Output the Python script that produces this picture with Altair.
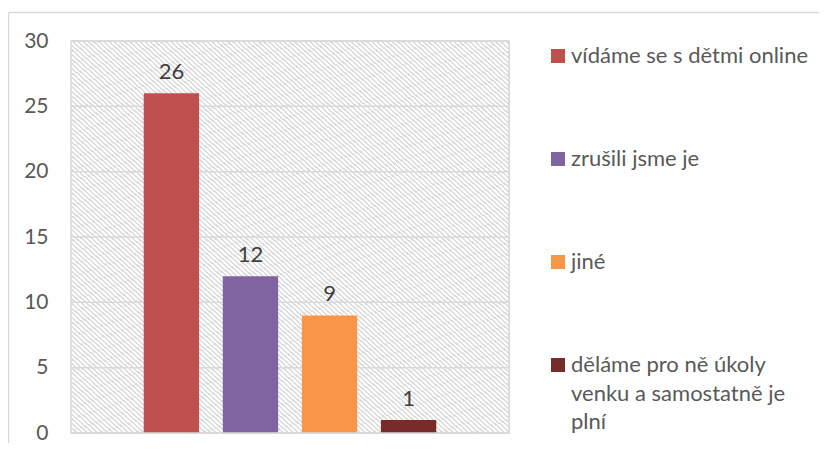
import altair as alt
import pandas as pd

series = ["vídáme se s dětmi online", "zrušili jsme je", "jiné",
          "děláme pro ně úkoly venku a samostatně je plní"]
legend_text = ["vídáme se s dětmi online", "zrušili jsme je", "jiné",
               "děláme pro ně úkoly\nvenku a samostatně je\nplní"]
values = [26, 12, 9, 1]
colors = ["#C0504D", "#8064A2", "#F79646", "#772C2A"]
y_ticks = [0, 5, 10, 15, 20, 25, 30]

df = pd.DataFrame({"series": series, "value": values, "legend": legend_text})
ticks_df = pd.DataFrame({"tick": y_ticks})

FONT = "Lato"
W, H = 438, 392

# diagonal hatch pattern of the plot area (style only)
n_stripes = 170
stops = []
for k in range(n_stripes):
    a = k / n_stripes
    b = (k + 0.55) / n_stripes
    c = (k + 1) / n_stripes
    stops += [alt.GradientStop(offset=a, color="#ffffff"),
              alt.GradientStop(offset=b, color="#ffffff"),
              alt.GradientStop(offset=b, color="#dcdcdc"),
              alt.GradientStop(offset=c, color="#dcdcdc")]
hatch_fill = alt.LinearGradient(gradient="linear", x1=1, y1=0, x2=0, y2=1,
                                stops=stops)

x_enc = alt.X("series:N", sort=series,
              scale=alt.Scale(paddingInner=0.30, paddingOuter=0.92),
              axis=None)
y_scale = alt.Scale(domain=[0, 30])
color_enc = alt.Color("series:N", sort=series,
                      scale=alt.Scale(domain=series, range=colors), legend=None)

one_row = alt.Chart(df).transform_aggregate(n="count()")

hatch = one_row.mark_rect(color=hatch_fill).encode(
    x=alt.value(0), x2=alt.value(W), y=alt.value(0), y2=alt.value(H))

grid = alt.Chart(ticks_df).mark_rule(color="#d9d9d9", strokeWidth=1.5).encode(
    y=alt.Y("tick:Q", scale=y_scale,
            axis=alt.Axis(values=y_ticks, title=None, ticks=False, domain=False,
                          grid=False, labelFont=FONT, labelFontSize=21,
                          labelColor="#595959", labelPadding=23)))

bars = alt.Chart(df).mark_bar().encode(
    x=x_enc,
    y=alt.Y("value:Q", scale=y_scale),
    color=color_enc,
)

texts = alt.Chart(df).mark_text(
    baseline="middle", dy=-21, font=FONT, fontSize=22, color="#404040"
).encode(
    x=alt.X("series:N", sort=series, axis=None),
    y=alt.Y("value:Q", scale=y_scale),
    text=alt.Text("value:Q"),
)

frame = one_row.mark_rect(fill=None, stroke="#d9d9d9", strokeWidth=1.5).encode(
    x=alt.value(0), x2=alt.value(W), y=alt.value(0), y2=alt.value(H))

main = alt.layer(hatch, grid, bars, texts, frame)

leg_y = alt.Y("series:N", sort=series,
              scale=alt.Scale(type="point", domain=series, range=[15, 324],
                              padding=0),
              axis=None)
leg_sq = alt.Chart(df).mark_square(size=196, opacity=1).encode(
    x=alt.value(487), y=leg_y, color=color_enc)
leg_tx = alt.Chart(df).mark_text(
    align="left", baseline="middle", font=FONT, fontSize=22, color="#595959",
    lineBreak="\n", lineHeight=28.5
).encode(x=alt.value(500), y=leg_y, text="legend:N")

border_v = one_row.mark_rule(color="#d9d9d9", strokeWidth=1.5).encode(
    x=alt.value(-62.5), y=alt.value(-28.5), y2=alt.value(500))
border_h = one_row.mark_rule(color="#d9d9d9", strokeWidth=1.5).encode(
    y=alt.value(-28.5), x=alt.value(-62.5), x2=alt.value(900))

legend_layer = alt.layer(leg_sq, leg_tx)

chart = alt.layer(main, legend_layer, border_v, border_h).resolve_scale(
    y="independent"
).properties(
    width=W, height=H,
    autosize=alt.AutoSizeParams(type="none"),
    padding={"left": 63, "top": 33, "right": 310, "bottom": 10},
).configure_view(stroke=None).configure(background="white")

chart.save("out.html", embed_options={"renderer": "svg", "actions": False})
